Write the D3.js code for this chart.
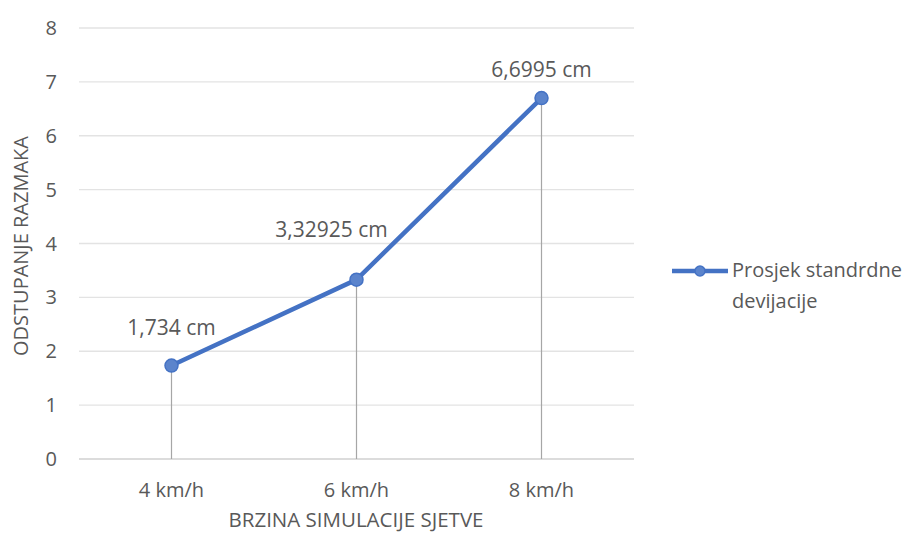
<!DOCTYPE html>
<html><head><meta charset="utf-8">
<script src="https://cdn.jsdelivr.net/npm/d3@7"></script>
<style>body{margin:0;background:#fff}svg text{font-family:"Open Sans","Noto Sans",sans-serif;fill:#595959}</style>
</head><body><svg id="c" width="911" height="533"></svg>
<script>
const categories = ["4 km/h", "6 km/h", "8 km/h"];
const values = [1.734, 3.32925, 6.6995];
const labels = ["1,734 cm", "3,32925 cm", "6,6995 cm"];
const yTicks = [0,1,2,3,4,5,6,7,8];
const seriesName = ["Prosjek standrdne", "devijacije"];
const labelDx = [0, -25, 0];
const labelDy = [-31, -43, -21];

const svg = d3.select("#c");
const x = d3.scaleBand().domain(categories).range([79, 634]);
const y = d3.scaleLinear().domain([0, 8]).range([459, 28]);
const cx = d => x(d) + x.bandwidth()/2;

svg.append("g").selectAll("line").data(yTicks).join("line")
  .attr("x1", 79).attr("x2", 634).attr("y1", d=>y(d)).attr("y2", d=>y(d))
  .attr("stroke", d => d===0 ? "#d0d0d0" : "#e3e3e3").attr("stroke-width", 1.3);

svg.append("g").selectAll("text").data(yTicks).join("text")
  .attr("x", 57).attr("y", d=>y(d)+7).attr("text-anchor","end")
  .attr("font-size", 20).text(d=>d);

svg.append("g").selectAll("text").data(categories).join("text")
  .attr("x", d=>cx(d)).attr("y", 497).attr("text-anchor","middle")
  .attr("font-size", 20).text(d=>d);

// drop lines
svg.append("g").selectAll("line").data(categories).join("line")
  .attr("x1", d=>cx(d)).attr("x2", d=>cx(d))
  .attr("y1", (d,i)=>y(values[i])).attr("y2", y(0))
  .attr("stroke", "#a6a6a6").attr("stroke-width", 1.2);

const line = d3.line().x((d,i)=>cx(categories[i])).y(d=>y(d));
svg.append("path").datum(values).attr("d", line)
  .attr("fill","none").attr("stroke","#4472C4").attr("stroke-width",4.5).attr("stroke-linejoin","round");

svg.append("g").selectAll("circle").data(values).join("circle")
  .attr("cx",(d,i)=>cx(categories[i])).attr("cy", d=>y(d)).attr("r", 6.5)
  .attr("fill","#5b84cc").attr("stroke","#4472C4").attr("stroke-width",1.5);

svg.append("g").selectAll("text").data(values).join("text")
  .attr("x",(d,i)=>cx(categories[i])+labelDx[i]).attr("y", (d,i)=>y(d)+labelDy[i])
  .attr("text-anchor","middle").attr("font-size",21).text((d,i)=>labels[i]);

svg.append("text").attr("x", 356).attr("y", 527).attr("text-anchor","middle")
  .attr("font-size", 20.5).text("BRZINA SIMULACIJE SJETVE");
svg.append("text").attr("transform","translate(28,246) rotate(-90)").attr("text-anchor","middle")
  .attr("font-size", 20).text("ODSTUPANJE RAZMAKA");

// legend
svg.append("line").attr("x1",672).attr("x2",728).attr("y1",271).attr("y2",271)
  .attr("stroke","#4472C4").attr("stroke-width",4.5);
svg.append("circle").attr("cx",700).attr("cy",271).attr("r",5)
  .attr("fill","#5b84cc").attr("stroke","#4472C4").attr("stroke-width",1.5);
svg.append("g").selectAll("text").data(seriesName).join("text")
  .attr("x",732).attr("y",(d,i)=>277+i*31).attr("font-size",20).text(d=>d);
</script></body></html>
